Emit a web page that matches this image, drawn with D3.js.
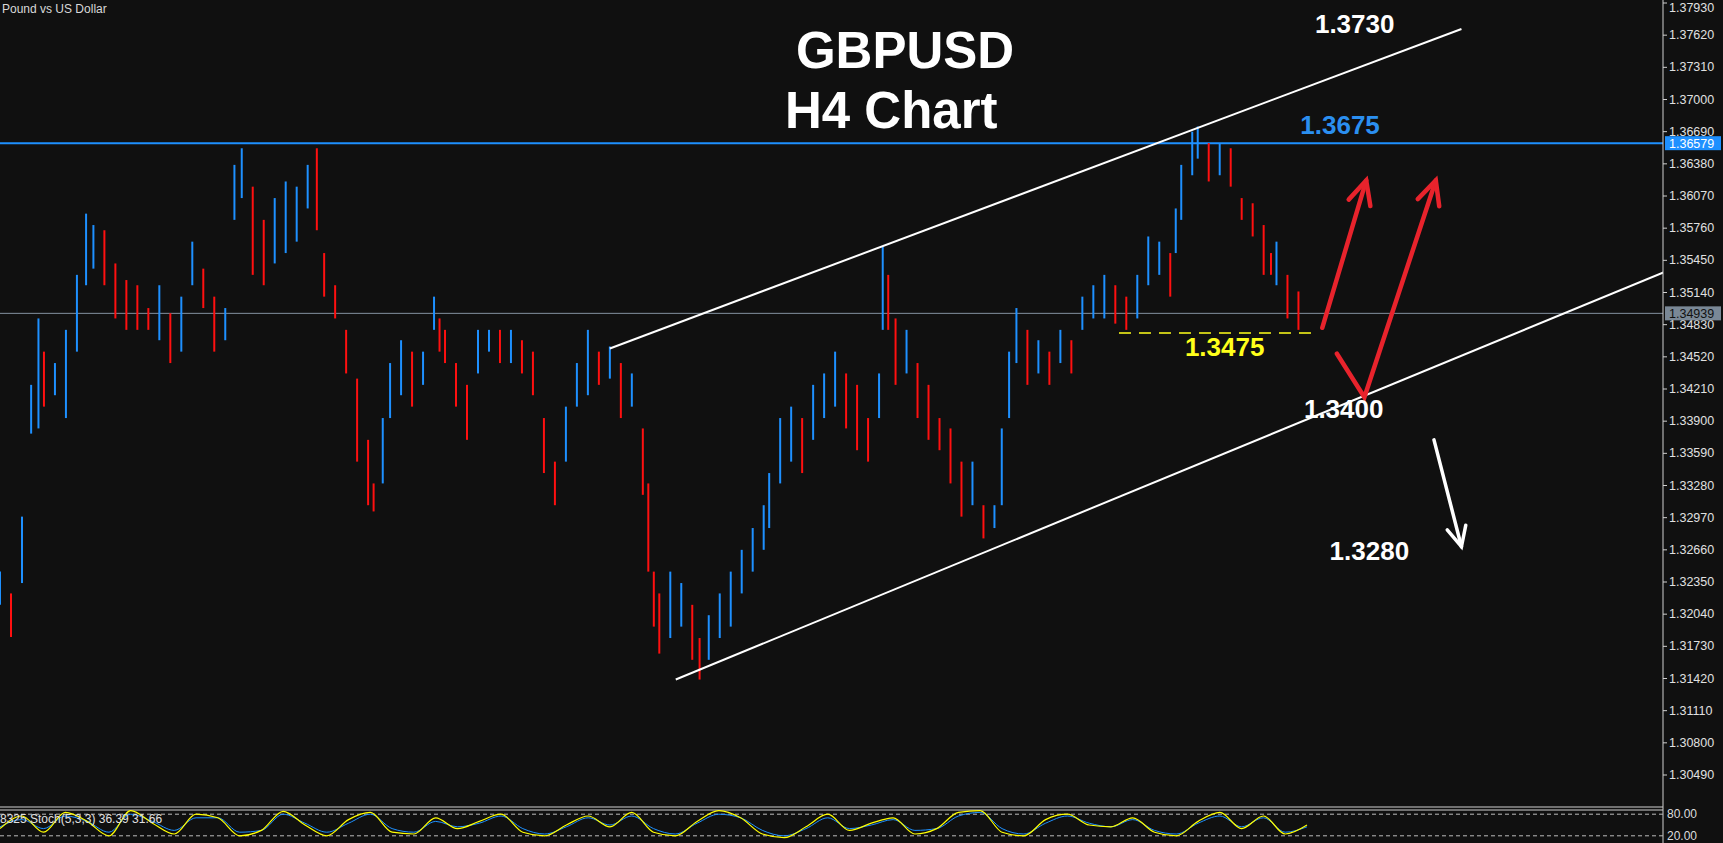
<!DOCTYPE html>
<html lang="en">
<head>
<meta charset="UTF-8">
<title>GBPUSD H4</title>
<script src="https://d3js.org/d3.v7.min.js"></script>
<style>
  html, body { margin: 0; padding: 0; background: #101010; overflow: hidden; }
  svg { display: block; font-family: "Liberation Sans", Arial, sans-serif; }
</style>
</head>
<body>
<svg id="chart" width="1723" height="843"></svg>
<script>
// bar number (H4 bars) with high / low of each sampled bar
const bars = [0,6,12,17,21,24,30,36,42,47,51,57,63,69,75,81,87,93,99,105,111,117,123,128,132,138,144,150,156,162,168,173,177,183,189,195,201,204,209,213,219,225,231,237,240,243,249,255,261,267,273,279,285,291,297,303,309,315,321,327,333,339,345,351,354,357,360,366,372,378,382,387,393,399,405,411,417,420,426,432,438,444,450,456,462,468,474,480,482,485,489,495,501,507,513,519,525,531,537,543,547,551,555,561,567,573,579,585,591,597,603,609,615,621,627,633,639,642,645,651,654,660,666,672,678,684,690,694,697,703,709];
const highs = [1.3245,1.3224,1.3298,1.3425,1.3489,1.3457,1.3446,1.3478,1.3531,1.3590,1.3579,1.3574,1.3542,1.3526,1.3521,1.3499,1.3521,1.3494,1.3510,1.3563,1.3537,1.3510,1.3499,1.3637,1.3653,1.3616,1.3584,1.3605,1.3621,1.3616,1.3637,1.3653,1.3552,1.3521,1.3478,1.3431,1.3372,1.3330,1.3393,1.3446,1.3468,1.3457,1.3457,1.3510,1.3489,1.3478,1.3446,1.3425,1.3478,1.3478,1.3478,1.3478,1.3468,1.3457,1.3393,1.3351,1.3404,1.3446,1.3478,1.3457,1.3462,1.3446,1.3436,1.3383,1.3330,1.3245,1.3224,1.3245,1.3234,1.3213,1.3181,1.3203,1.3224,1.3245,1.3266,1.3287,1.3309,1.3340,1.3393,1.3404,1.3393,1.3425,1.3436,1.3457,1.3436,1.3425,1.3393,1.3436,1.3558,1.3531,1.3489,1.3478,1.3446,1.3425,1.3393,1.3383,1.3351,1.3351,1.3309,1.3309,1.3383,1.3457,1.3499,1.3478,1.3468,1.3457,1.3478,1.3468,1.3510,1.3521,1.3531,1.3521,1.3510,1.3531,1.3568,1.3563,1.3552,1.3595,1.3637,1.3669,1.3674,1.3658,1.3658,1.3653,1.3605,1.3600,1.3579,1.3552,1.3563,1.3531,1.3515,1.3510];
const lows = [1.3213,1.3182,1.3234,1.3378,1.3383,1.3404,1.3415,1.3393,1.3457,1.3521,1.3537,1.3521,1.3489,1.3478,1.3478,1.3478,1.3468,1.3446,1.3457,1.3521,1.3499,1.3457,1.3468,1.3584,1.3605,1.3531,1.3521,1.3542,1.3552,1.3563,1.3595,1.3574,1.3510,1.3489,1.3436,1.3351,1.3309,1.3303,1.3330,1.3393,1.3415,1.3404,1.3425,1.3478,1.3457,1.3446,1.3404,1.3372,1.3436,1.3457,1.3446,1.3446,1.3436,1.3415,1.3340,1.3309,1.3351,1.3404,1.3415,1.3425,1.3431,1.3393,1.3404,1.3319,1.3245,1.3192,1.3166,1.3181,1.3192,1.3160,1.3141,1.3160,1.3181,1.3192,1.3224,1.3245,1.3266,1.3287,1.3330,1.3351,1.3340,1.3372,1.3393,1.3404,1.3383,1.3362,1.3351,1.3393,1.3478,1.3478,1.3425,1.3436,1.3393,1.3372,1.3362,1.3330,1.3298,1.3309,1.3277,1.3287,1.3309,1.3393,1.3446,1.3425,1.3436,1.3425,1.3446,1.3436,1.3478,1.3489,1.3489,1.3484,1.3478,1.3489,1.3521,1.3531,1.3510,1.3552,1.3584,1.3627,1.3643,1.3621,1.3627,1.3616,1.3584,1.3568,1.3531,1.3531,1.3521,1.3489,1.3478,1.3478];

const priceTicks = [1.3049,1.3080,1.3111,1.3142,1.3173,1.3204,1.3235,1.3266,1.3297,1.3328,1.3359,1.3390,1.3421,1.3452,1.3483,1.3514,1.3545,1.3576,1.3607,1.3638,1.3669,1.3700,1.3731,1.3762,1.3793];

const resistance = 1.36579;
const lastPrice = 1.34939;
const supportLevel = 1.3475;
// channel lines: [bar, price] end points
const upperChannel = [[333, 1.3460], [798, 1.3768]];
const lowerChannel = [[369, 1.3141], [1000, 1.3600]];
// scenario paths: [bar, price]
const bullPath = [[722, 1.3480], [746, 1.3622]];
const dipPath = [[730, 1.3455], [745, 1.3413], [784, 1.3622]];
const bearPath = [[783, 1.3372], [798, 1.3269]];
const levelLabels = [
  {text: "1.3730", bar: 718, price: 1.3764, color: "#ffffff"},
  {text: "1.3675", bar: 710, price: 1.3667, color: "#2b8ff0"},
  {text: "1.3475", bar: 647, price: 1.3453, color: "#ffff1a"},
  {text: "1.3400", bar: 712, price: 1.3393, color: "#ffffff"},
  {text: "1.3280", bar: 726, price: 1.3256, color: "#ffffff"}
];
// stochastic %K / %D (sampled)
const stochK = [40,75,30,85,60,20,90,55,25,80,70,20,35,88,50,20,65,85,30,25,70,40,60,80,30,20,50,75,45,85,30,20,60,90,70,25,15,45,80,35,55,70,25,40,85,90,30,20,65,80,50,45,70,30,20,60,85,40,75,25,50];
const stochD = [45,65,40,75,60,30,80,60,35,70,70,30,35,80,55,30,55,80,40,30,60,45,55,75,40,25,45,70,50,75,40,25,55,80,70,35,20,40,70,40,50,65,35,40,75,85,40,25,55,75,55,45,65,35,25,55,75,45,70,30,45];

const W = 1723, H = 843;
const axisX = 1663, mainBottom = 807;
const svg = d3.select("#chart");
svg.append("rect").attr("width", W).attr("height", H).attr("fill", "#101010");

const x = d3.scaleLinear().domain([0, 720]).range([0, 1318.6]);
const y = d3.scaleLinear().domain([1.3049, 1.3793]).range([775, 3]);

const defs = svg.append("defs");
defs.append("clipPath").attr("id", "clipMain")
  .append("rect").attr("x", 0).attr("y", 0).attr("width", axisX).attr("height", mainBottom);
const g = svg.append("g").attr("clip-path", "url(#clipMain)");

// level lines
g.append("line").attr("x1", 0).attr("x2", axisX).attr("y1", y(resistance)).attr("y2", y(resistance))
  .attr("stroke", "#1e90ff").attr("stroke-width", 2);
g.append("line").attr("x1", 0).attr("x2", axisX).attr("y1", y(lastPrice)).attr("y2", y(lastPrice))
  .attr("stroke", "#8392a0").attr("stroke-width", 1);

// bars
const mids = bars.map((b, i) => (highs[i] + lows[i]) / 2);
g.selectAll("line.bar").data(bars).join("line").attr("class", "bar")
  .attr("x1", d => x(d)).attr("x2", d => x(d))
  .attr("y1", (d, i) => y(highs[i])).attr("y2", (d, i) => y(lows[i]))
  .attr("stroke", (d, i) => (i === 0 || mids[i] >= mids[i - 1]) ? "#1e90ff" : "#ff1010")
  .attr("stroke-width", 2);

// channel
const line = d3.line().x(d => x(d[0])).y(d => y(d[1]));
[upperChannel, lowerChannel].forEach(c => {
  g.append("path").attr("d", line(c)).attr("stroke", "#ffffff").attr("stroke-width", 2).attr("fill", "none");
});

// support dashed
g.append("line").attr("x1", x(611)).attr("x2", x(717)).attr("y1", y(supportLevel)).attr("y2", y(supportLevel))
  .attr("stroke", "#ffff1a").attr("stroke-width", 1.5).attr("stroke-dasharray", "12,8");

// arrows
function arrow(pts, color, w, head) {
  g.append("path").attr("d", line(pts)).attr("stroke", color).attr("stroke-width", w)
    .attr("fill", "none").attr("stroke-linejoin", "miter").attr("stroke-linecap", "round");
  const a = pts[pts.length - 2], b = pts[pts.length - 1];
  const ax = x(a[0]), ay = y(a[1]), bx = x(b[0]), by = y(b[1]);
  const ang = Math.atan2(by - ay, bx - ax);
  const p1 = [bx - head * Math.cos(ang - 0.45), by - head * Math.sin(ang - 0.45)];
  const p2 = [bx - head * Math.cos(ang + 0.45), by - head * Math.sin(ang + 0.45)];
  g.append("path").attr("d", `M${p1}L${bx},${by}L${p2}`).attr("stroke", color).attr("stroke-width", w)
    .attr("fill", "none").attr("stroke-linecap", "round");
}
arrow(bullPath, "#e8232c", 4.5, 26);
arrow(dipPath, "#e8232c", 4.5, 26);
arrow(bearPath, "#ffffff", 3.5, 22);

// labels
g.selectAll("text.lvl").data(levelLabels).join("text").attr("class", "lvl")
  .attr("x", d => x(d.bar)).attr("y", d => y(d.price))
  .attr("fill", d => d.color).attr("font-size", 26).attr("font-weight", "bold")
  .text(d => d.text);

svg.append("text").attr("x", 905).attr("y", 68).attr("text-anchor", "middle")
  .attr("fill", "#fff").attr("font-size", 51).attr("font-weight", "bold").text("GBPUSD");
svg.append("text").attr("x", 785).attr("y", 128)
  .attr("fill", "#fff").attr("font-size", 51).attr("font-weight", "bold").text("H4 Chart");
svg.append("text").attr("x", 2).attr("y", 13)
  .attr("fill", "#d8d8d8").attr("font-size", 12).text("Pound vs US Dollar");

// price axis
svg.append("line").attr("x1", axisX).attr("x2", axisX).attr("y1", 0).attr("y2", H).attr("stroke", "#d0d0d0");
const ax = svg.append("g");
ax.selectAll("line").data(priceTicks).join("line")
  .attr("x1", axisX).attr("x2", axisX + 4).attr("y1", d => y(d)).attr("y2", d => y(d)).attr("stroke", "#d0d0d0");
ax.selectAll("text").data(priceTicks).join("text")
  .attr("x", axisX + 6).attr("y", d => Math.max(12, y(d) + 4)).attr("fill", "#e0e0e0").attr("font-size", 12.5)
  .text(d => d.toFixed(5));
[[resistance, "#1e90ff", "#ffffff"], [lastPrice, "#7a8896", "#111"]].forEach(([p, bg, fg]) => {
  svg.append("rect").attr("x", axisX + 2).attr("y", y(p) - 7).attr("width", 56).attr("height", 14).attr("fill", bg);
  svg.append("text").attr("x", axisX + 6).attr("y", y(p) + 4.5).attr("fill", fg).attr("font-size", 12.5).text(p.toFixed(5));
});

// indicator window
svg.append("line").attr("x1", 0).attr("x2", axisX).attr("y1", mainBottom).attr("y2", mainBottom).attr("stroke", "#d0d0d0");
svg.append("line").attr("x1", 0).attr("x2", axisX).attr("y1", 810).attr("y2", 810).attr("stroke", "#d0d0d0");
const ys = d3.scaleLinear().domain([0, 100]).range([843, 807]);
[80, 20].forEach(v => {
  svg.append("line").attr("x1", 0).attr("x2", axisX).attr("y1", ys(v)).attr("y2", ys(v))
    .attr("stroke", "#bbb").attr("stroke-dasharray", "4,3");
  svg.append("text").attr("x", axisX + 4).attr("y", ys(v) + 4).attr("fill", "#ddd").attr("font-size", 12).text(v.toFixed(2));
});
const xs = d3.scaleLinear().domain([0, stochK.length - 1]).range([0, 1307]);
const sl = d3.line().x((d, i) => xs(i)).y(d => ys(d)).curve(d3.curveMonotoneX);
svg.append("path").attr("d", sl(stochD)).attr("stroke", "#1e90ff").attr("stroke-width", 1).attr("fill", "none");
svg.append("path").attr("d", sl(stochK)).attr("stroke", "#ffff00").attr("stroke-width", 1.2).attr("fill", "none");
svg.append("text").attr("x", 0).attr("y", 823).attr("fill", "#e0e0e0").attr("font-size", 12)
  .text("8325 Stoch(5,3,3) 36.39 31.66");
</script>
</body>
</html>
